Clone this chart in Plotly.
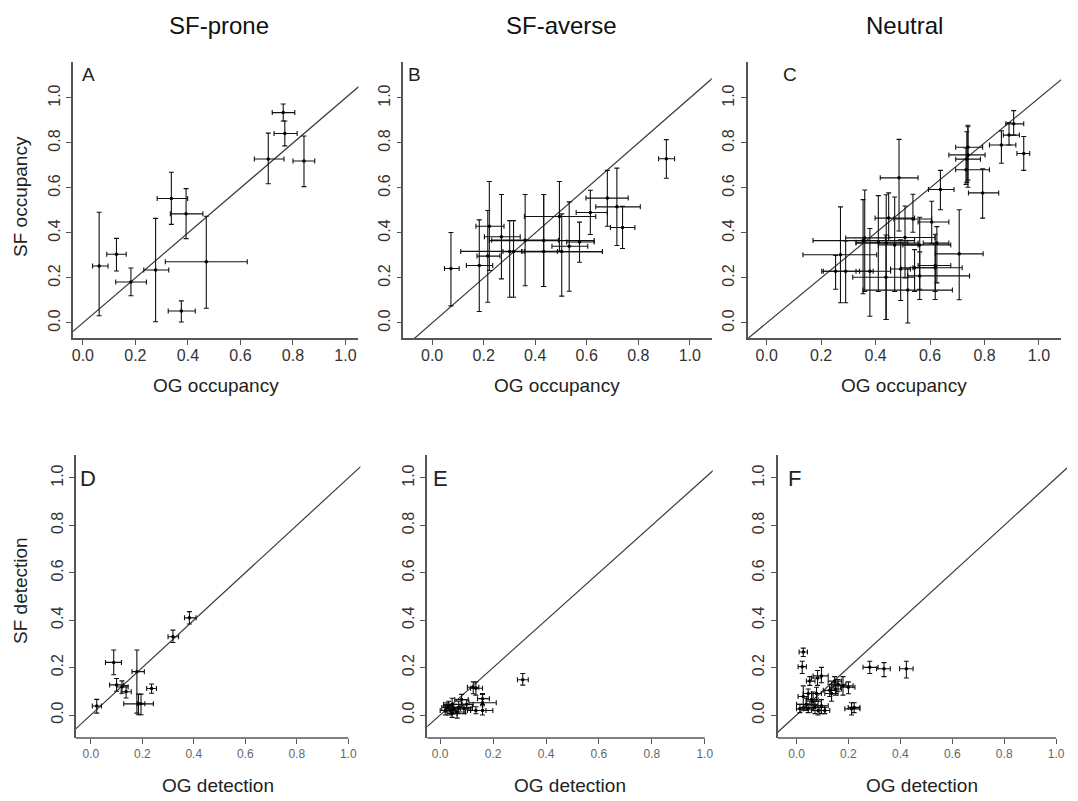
import plotly.graph_objects as go

W, H = 1078, 801

# ---------------- DATA ----------------
# Panel A  (SF-prone, occupancy)
A_og    = [0.763, 0.769, 0.706, 0.842, 0.337, 0.393, 0.062, 0.128, 0.183, 0.277, 0.470, 0.375]
A_og_lo = [0.721, 0.728, 0.653, 0.800, 0.283, 0.333, 0.037, 0.091, 0.125, 0.232, 0.314, 0.325]
A_og_hi = [0.807, 0.816, 0.766, 0.883, 0.399, 0.457, 0.096, 0.165, 0.242, 0.327, 0.626, 0.428]
A_sf    = [0.935, 0.842, 0.729, 0.720, 0.553, 0.485, 0.253, 0.305, 0.182, 0.235, 0.272, 0.053]
A_sf_lo = [0.898, 0.787, 0.619, 0.606, 0.438, 0.375, 0.032, 0.231, 0.121, 0.005, 0.065, 0.004]
A_sf_hi = [0.973, 0.898, 0.844, 0.831, 0.670, 0.597, 0.492, 0.376, 0.244, 0.465, 0.474, 0.098]

# Panel B  (SF-averse, occupancy)
B_og    = [0.909, 0.073, 0.183, 0.216, 0.222, 0.269, 0.433, 0.361, 0.301, 0.316, 0.433, 0.503, 0.494, 0.532, 0.572, 0.614, 0.680, 0.717, 0.739]
B_og_lo = [0.879, 0.048, 0.133, 0.174, 0.170, 0.203, 0.222, 0.231, 0.111, 0.275, 0.348, 0.348, 0.358, 0.465, 0.522, 0.559, 0.597, 0.635, 0.692]
B_og_hi = [0.941, 0.105, 0.235, 0.263, 0.279, 0.342, 0.629, 0.490, 0.486, 0.358, 0.661, 0.661, 0.635, 0.604, 0.629, 0.680, 0.761, 0.808, 0.787]
B_sf    = [0.730, 0.242, 0.255, 0.297, 0.430, 0.383, 0.366, 0.368, 0.318, 0.317, 0.317, 0.317, 0.473, 0.341, 0.360, 0.491, 0.555, 0.516, 0.424]
B_sf_lo = [0.643, 0.076, 0.051, 0.092, 0.233, 0.196, 0.162, 0.165, 0.114, 0.114, 0.162, 0.119, 0.319, 0.141, 0.270, 0.393, 0.430, 0.344, 0.331]
B_sf_hi = [0.815, 0.402, 0.458, 0.500, 0.629, 0.571, 0.571, 0.571, 0.455, 0.455, 0.571, 0.485, 0.629, 0.538, 0.448, 0.590, 0.678, 0.688, 0.518]

# Panel C  (Neutral, occupancy)
C_og    = [0.907, 0.890, 0.862, 0.944, 0.739, 0.739, 0.735, 0.732, 0.793, 0.638, 0.486,
           0.606, 0.537, 0.448, 0.508, 0.625, 0.619, 0.619, 0.543, 0.562, 0.707, 0.518,
           0.438, 0.439, 0.410, 0.379, 0.360, 0.354, 0.271, 0.290, 0.253, 0.562, 0.470, 0.492]
C_og_lo = [0.878, 0.869, 0.818, 0.919, 0.694, 0.669, 0.694, 0.694, 0.741, 0.594, 0.417,
           0.556, 0.467, 0.398, 0.448, 0.575, 0.556, 0.537, 0.492, 0.518, 0.619, 0.354,
           0.316, 0.328, 0.328, 0.328, 0.290, 0.170, 0.133, 0.208, 0.202, 0.500, 0.410, 0.455]
C_og_hi = [0.944, 0.928, 0.915, 0.966, 0.793, 0.802, 0.785, 0.818, 0.852, 0.688, 0.556,
           0.669, 0.606, 0.543, 0.618, 0.669, 0.676, 0.718, 0.619, 0.745, 0.795, 0.682,
           0.543, 0.556, 0.518, 0.455, 0.436, 0.543, 0.404, 0.391, 0.341, 0.676, 0.556, 0.528]
C_sf    = [0.885, 0.835, 0.791, 0.753, 0.781, 0.747, 0.728, 0.681, 0.578, 0.593, 0.645,
           0.449, 0.462, 0.466, 0.380, 0.355, 0.255, 0.245, 0.245, 0.209, 0.307, 0.146,
           0.203, 0.355, 0.359, 0.230, 0.378, 0.366, 0.303, 0.230, 0.230, 0.347, 0.347, 0.240]
C_sf_lo = [0.835, 0.791, 0.710, 0.678, 0.635, 0.603, 0.625, 0.616, 0.466, 0.503, 0.409,
           0.353, 0.403, 0.378, 0.200, 0.178, 0.104, 0.140, 0.140, 0.104, 0.103, 0.000,
           0.015, 0.015, 0.140, 0.030, 0.140, 0.130, 0.090, 0.090, 0.150, 0.150, 0.140, 0.100]
C_sf_hi = [0.944, 0.891, 0.854, 0.829, 0.879, 0.872, 0.850, 0.778, 0.685, 0.678, 0.816,
           0.541, 0.572, 0.578, 0.520, 0.428, 0.394, 0.350, 0.326, 0.316, 0.503, 0.240,
           0.391, 0.570, 0.566, 0.420, 0.591, 0.548, 0.516, 0.365, 0.300, 0.470, 0.560, 0.370]

# Panel D  (SF-prone, detection)
D_og    = [0.383, 0.319, 0.089, 0.179, 0.100, 0.121, 0.137, 0.236, 0.185, 0.195, 0.023]
D_og_lo = [0.364, 0.300, 0.057, 0.160, 0.073, 0.100, 0.118, 0.217, 0.128, 0.180, 0.006]
D_og_hi = [0.409, 0.341, 0.119, 0.208, 0.128, 0.145, 0.157, 0.255, 0.243, 0.210, 0.041]
D_sf    = [0.410, 0.330, 0.222, 0.183, 0.127, 0.118, 0.098, 0.112, 0.047, 0.047, 0.038]
D_sf_lo = [0.384, 0.306, 0.170, 0.008, 0.100, 0.092, 0.072, 0.092, 0.001, 0.001, 0.008]
D_sf_hi = [0.436, 0.358, 0.274, 0.274, 0.154, 0.144, 0.124, 0.131, 0.088, 0.088, 0.066]

# Panel E  (SF-averse, detection)
E_og    = [0.312, 0.135, 0.125, 0.160, 0.160, 0.160, 0.135, 0.081, 0.070, 0.045, 0.019, 0.038, 0.051, 0.064, 0.026, 0.032, 0.090, 0.045, 0.100]
E_og_lo = [0.292, 0.115, 0.103, 0.141, 0.109, 0.115, 0.103, 0.055, 0.032, 0.013, 0.000, 0.019, 0.026, 0.038, 0.006, 0.013, 0.064, 0.026, 0.080]
E_og_hi = [0.333, 0.160, 0.146, 0.186, 0.212, 0.199, 0.173, 0.106, 0.122, 0.083, 0.051, 0.058, 0.077, 0.096, 0.045, 0.051, 0.116, 0.064, 0.125]
E_sf    = [0.149, 0.113, 0.117, 0.069, 0.052, 0.019, 0.019, 0.065, 0.032, 0.045, 0.019, 0.019, 0.026, 0.013, 0.032, 0.039, 0.026, 0.006, 0.045]
E_sf_lo = [0.126, 0.084, 0.090, 0.045, 0.019, 0.000, 0.005, 0.039, 0.006, 0.006, 0.000, 0.000, 0.006, -0.013, 0.013, 0.019, 0.006, -0.010, 0.026]
E_sf_hi = [0.175, 0.139, 0.140, 0.087, 0.091, 0.039, 0.035, 0.087, 0.058, 0.071, 0.039, 0.039, 0.045, 0.032, 0.052, 0.058, 0.045, 0.026, 0.065]

# Panel F  (Neutral, detection)
F_og    = [0.026, 0.022, 0.282, 0.337, 0.423, 0.081, 0.051, 0.096, 0.147, 0.179, 0.160, 0.135, 0.128, 0.026, 0.038,
           0.064, 0.071, 0.058, 0.109, 0.212, 0.222, 0.013, 0.045, 0.083, 0.096, 0.200, 0.077, 0.150, 0.045]
F_og_lo = [0.010, 0.006, 0.256, 0.308, 0.397, 0.058, 0.038, 0.064, 0.122, 0.141, 0.135, 0.109, 0.103, 0.006, 0.000,
           0.038, 0.032, 0.038, 0.090, 0.186, 0.199, 0.000, 0.026, 0.058, 0.070, 0.170, 0.058, 0.128, 0.026]
F_og_hi = [0.042, 0.038, 0.314, 0.361, 0.449, 0.096, 0.071, 0.122, 0.173, 0.218, 0.190, 0.160, 0.154, 0.045, 0.083,
           0.096, 0.109, 0.083, 0.128, 0.244, 0.244, 0.026, 0.064, 0.109, 0.122, 0.225, 0.096, 0.173, 0.058]
F_sf    = [0.266, 0.204, 0.201, 0.195, 0.195, 0.156, 0.143, 0.165, 0.143, 0.123, 0.130, 0.091, 0.104, 0.078, 0.045,
           0.058, 0.032, 0.065, 0.019, 0.026, 0.032, 0.026, 0.026, 0.019, 0.039, 0.117, 0.091, 0.110, 0.091]
F_sf_lo = [0.247, 0.175, 0.175, 0.162, 0.156, 0.125, 0.125, 0.136, 0.123, 0.084, 0.100, 0.058, 0.078, 0.032, 0.019,
           0.019, 0.006, 0.039, 0.006, 0.000, 0.010, 0.010, 0.010, 0.000, 0.006, 0.090, 0.058, 0.084, 0.065]
F_sf_hi = [0.282, 0.227, 0.227, 0.221, 0.227, 0.188, 0.162, 0.201, 0.162, 0.162, 0.150, 0.117, 0.130, 0.123, 0.071,
           0.097, 0.058, 0.091, 0.032, 0.052, 0.052, 0.045, 0.045, 0.039, 0.065, 0.140, 0.117, 0.136, 0.110]

tick_vals = [0.0, 0.2, 0.4, 0.6, 0.8, 1.0]
tick_text = ["0.0", "0.2", "0.4", "0.6", "0.8", "1.0"]
col_titles = ["SF-prone", "SF-averse", "Neutral"]
panel_letters = ["A", "B", "C", "D", "E", "F"]
x_titles = ["OG occupancy", "OG detection"]
y_titles = ["SF occupancy", "SF detection"]

# ---------------- LAYOUT GEOMETRY (pixels) ----------------
FONT = "Liberation Sans, Arial, sans-serif"
AXC = "#555555"

xdoms = [(64, 350), (395, 704), (740, 1054), (67, 352), (419, 705), (770, 1060)]
xranges = [[-0.038, 1.049], [-0.112, 1.085], [-0.070, 1.081],
           [-0.058, 1.047], [-0.049, 1.030], [-0.073, 1.042]]
top_ydom, top_yr = (54, 330), [-0.067, 1.16]
bot_ydom, bot_yr = (447, 730), [-0.097, 1.097]


def fx(p):
    return p / W


def fy(p):
    return 1 - p / H


panels = [
    (A_og, A_og_lo, A_og_hi, A_sf, A_sf_lo, A_sf_hi),
    (B_og, B_og_lo, B_og_hi, B_sf, B_sf_lo, B_sf_hi),
    (C_og, C_og_lo, C_og_hi, C_sf, C_sf_lo, C_sf_hi),
    (D_og, D_og_lo, D_og_hi, D_sf, D_sf_lo, D_sf_hi),
    (E_og, E_og_lo, E_og_hi, E_sf, E_sf_lo, E_sf_hi),
    (F_og, F_og_lo, F_og_hi, F_sf, F_sf_lo, F_sf_hi),
]

fig = go.Figure()
layout = {}
shapes = []
annotations = []

for i, (og, oglo, oghi, sf, sflo, sfhi) in enumerate(panels):
    n = i + 1
    xa = "x" if n == 1 else f"x{n}"
    ya = "y" if n == 1 else f"y{n}"
    top = i < 3
    xd = xdoms[i]
    xr = xranges[i]
    yd = top_ydom if top else bot_ydom
    yr = top_yr if top else bot_yr

    # 1:1 reference line
    fig.add_trace(go.Scatter(x=[-0.3, 1.3], y=[-0.3, 1.3], mode="lines",
                             line=dict(color="#3a3a3a", width=1.2),
                             xaxis=xa, yaxis=ya, hoverinfo="skip", showlegend=False))
    fig.add_trace(go.Scatter(
        x=og, y=sf, mode="markers",
        marker=dict(color="black", size=3.5),
        error_x=dict(type="data", symmetric=False,
                     array=[h - v for h, v in zip(oghi, og)],
                     arrayminus=[v - l for v, l in zip(og, oglo)],
                     color="#111111", thickness=1.1, width=2.5),
        error_y=dict(type="data", symmetric=False,
                     array=[h - v for h, v in zip(sfhi, sf)],
                     arrayminus=[v - l for v, l in zip(sf, sflo)],
                     color="#111111", thickness=1.1, width=2.5),
        xaxis=xa, yaxis=ya, showlegend=False))

    xkey = "xaxis" if n == 1 else f"xaxis{n}"
    ykey = "yaxis" if n == 1 else f"yaxis{n}"
    layout[xkey] = dict(
        domain=[fx(xd[0]), fx(xd[1])], range=xr, anchor=ya,
        showgrid=False, zeroline=False, showline=top,
        linecolor=AXC, linewidth=1.5,
        ticks="outside", ticklen=5, tickwidth=1.2, tickcolor=AXC,
        tickvals=tick_vals, ticktext=tick_text,
        ticklabelstandoff=-3 if top else 0,
        tickfont=dict(family=FONT, size=16 if top else 12,
                      color="#333333" if top else "#666666"),
    )
    layout[ykey] = dict(
        domain=[fy(yd[1]), fy(yd[0])], range=yr, anchor=xa,
        showgrid=False, zeroline=False, showline=True,
        linecolor=AXC, linewidth=1.5,
        ticks="outside", ticklen=5, tickwidth=1.2, tickcolor=AXC,
        tickvals=tick_vals, ticktext=tick_text, tickangle=-90,
        tickfont=dict(family=FONT, size=16, color="#333333"),
    )
    if not top:
        shapes.append(dict(type="line", xref=xa, yref=f"{ya} domain",
                           x0=xr[0], x1=1.0, y0=0, y1=0,
                           line=dict(color=AXC, width=1.5)))

# column titles
title_x = [210, 554, 897]
for t, cx in zip(col_titles, title_x):
    annotations.append(dict(text=t, x=fx(cx), y=fy(17), xref="paper", yref="paper",
                            showarrow=False, xanchor="center", yanchor="middle",
                            font=dict(family=FONT, size=24, color="#111111")))

# panel letters
letter_pos = [(80, 67), (406, 67), (782, 67), (79, 470), (432, 470), (787, 470)]
for L, (px, py) in zip(panel_letters, letter_pos):
    annotations.append(dict(text=L, x=fx(px), y=fy(py), xref="paper", yref="paper",
                            showarrow=False, xanchor="center", yanchor="middle",
                            font=dict(family=FONT, size=19 if L in "ABC" else 22, color="#222222")))

# x axis titles
for j in range(3):
    cx = (xdoms[j][0] + xdoms[j][1]) / 2
    annotations.append(dict(text=x_titles[0], x=fx(cx), y=fy(377), xref="paper", yref="paper",
                            showarrow=False, xanchor="center", yanchor="middle",
                            font=dict(family=FONT, size=19, color="#222222")))
    cxb = (xdoms[j + 3][0] + xdoms[j + 3][1]) / 2
    annotations.append(dict(text=x_titles[1], x=fx(cxb), y=fy(777), xref="paper", yref="paper",
                            showarrow=False, xanchor="center", yanchor="middle",
                            font=dict(family=FONT, size=19, color="#222222")))

# y axis titles
annotations.append(dict(text=y_titles[0], x=fx(11), y=fy(188), xref="paper", yref="paper",
                        showarrow=False, textangle=-90, xanchor="center", yanchor="middle",
                        font=dict(family=FONT, size=19, color="#222222")))
annotations.append(dict(text=y_titles[1], x=fx(11), y=fy(582), xref="paper", yref="paper",
                        showarrow=False, textangle=-90, xanchor="center", yanchor="middle",
                        font=dict(family=FONT, size=19, color="#222222")))

fig.update_layout(
    width=W, height=H, margin=dict(l=0, r=0, t=0, b=0),
    paper_bgcolor="white", plot_bgcolor="white",
    shapes=shapes, annotations=annotations, showlegend=False,
    **layout,
)

fig.write_html("out.html")
